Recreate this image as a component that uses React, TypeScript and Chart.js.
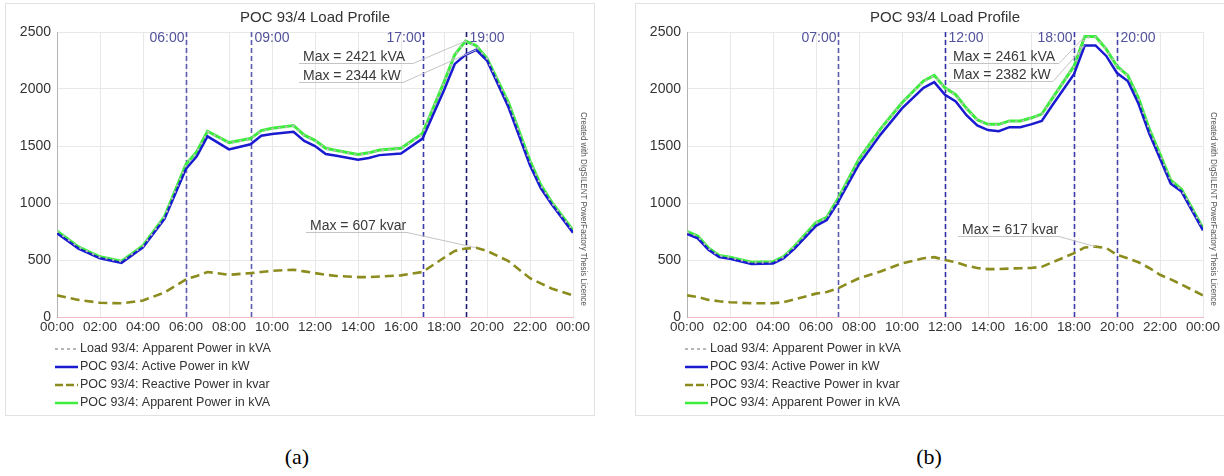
import React, { useEffect, useRef } from "react";
import { Chart, registerables } from "chart.js";
Chart.register(...registerables);

const FONT = "Arial, 'Liberation Sans', Helvetica, sans-serif";

const chartTitle = "POC 93/4 Load Profile";
const xTickLabels = ["00:00", "02:00", "04:00", "06:00", "08:00", "10:00", "12:00", "14:00", "16:00", "18:00", "20:00", "22:00", "00:00"];
const legendLabels = [
  "Load 93/4: Apparent Power in kVA",
  "POC 93/4: Active Power in kW",
  "POC 93/4: Reactive Power in kvar",
  "POC 93/4: Apparent Power in kVA",
];
const sideNote = "Created with DIgSILENT PowerFactory Thesis Licence";

// ---------- chart (a) ----------
const hoursA = [0, 1, 2, 3, 4, 5, 6, 6.5, 7, 8, 9, 9.5, 10, 11, 11.5, 12, 12.5, 13, 14, 14.5, 15, 16, 17, 18, 18.5, 19, 19.5, 20, 21, 22, 22.5, 23, 24];
const activeA = [735, 600, 515, 475, 610, 860, 1300, 1410, 1585, 1470, 1515, 1590, 1605, 1625, 1545, 1500, 1430, 1415, 1380, 1395, 1420, 1435, 1565, 1990, 2220, 2300, 2344, 2250, 1840, 1330, 1130, 990, 740];
const pocApparentA = [755, 615, 528, 490, 625, 880, 1340, 1450, 1630, 1530, 1565, 1635, 1655, 1680, 1595, 1550, 1480, 1460, 1425, 1440, 1465, 1480, 1610, 2060, 2300, 2421, 2380, 2270, 1880, 1370, 1160, 1010, 760];
const loadApparentA = [752, 612, 525, 488, 622, 877, 1335, 1446, 1625, 1526, 1560, 1630, 1650, 1676, 1590, 1546, 1476, 1456, 1420, 1436, 1460, 1476, 1605, 2055, 2295, 2415, 2376, 2266, 1876, 1366, 1156, 1006, 756];
const reactiveA = [190, 150, 125, 120, 145, 215, 330, 360, 395, 370, 385, 395, 405, 415, 400, 385, 370, 360, 350, 350, 355, 365, 395, 520, 580, 600, 607, 580, 490, 340, 295, 250, 190];
const markerHoursA = [6, 9, 17, 19];
const markerLabelsA = ["06:00", "09:00", "17:00", "19:00"];
const maxLabelsA = ["Max = 2421 kVA", "Max = 2344 kW", "Max = 607 kvar"];

// ---------- chart (b) ----------
const hoursB = [0, 0.5, 1, 1.5, 2, 3, 4, 4.5, 5, 6, 6.5, 7, 8, 9, 10, 11, 11.5, 12, 12.5, 13, 13.5, 14, 14.5, 15, 15.5, 16, 16.5, 17, 18, 18.5, 19, 19.5, 20, 20.5, 21, 21.5, 22, 22.5, 23, 24];
const activeB = [730, 690, 590, 525, 510, 465, 470, 515, 600, 800, 850, 1000, 1340, 1600, 1830, 2010, 2060, 1950, 1890, 1770, 1680, 1640, 1630, 1665, 1665, 1690, 1720, 1860, 2130, 2382, 2382, 2290, 2140, 2070, 1870, 1610, 1390, 1170, 1100, 760];
const pocApparentB = [750, 710, 605, 540, 525, 480, 485, 530, 620, 830, 875, 1030, 1385, 1650, 1880, 2070, 2120, 2010, 1950, 1830, 1730, 1690, 1690, 1720, 1720, 1745, 1780, 1920, 2200, 2461, 2461, 2350, 2200, 2120, 1920, 1650, 1430, 1200, 1120, 780];
const loadApparentB = [747, 707, 602, 537, 522, 477, 482, 527, 617, 826, 871, 1026, 1380, 1645, 1875, 2065, 2115, 2005, 1945, 1825, 1725, 1685, 1685, 1715, 1715, 1740, 1775, 1915, 2195, 2452, 2452, 2345, 2195, 2115, 1915, 1645, 1426, 1196, 1116, 776];
const reactiveB = [190, 175, 150, 138, 130, 120, 120, 130, 155, 205, 220, 250, 340, 400, 470, 515, 525, 500, 480, 450, 430, 420, 420, 425, 428, 430, 440, 480, 560, 610, 617, 605, 545, 515, 480, 430, 370, 330, 285, 190];
const markerHoursB = [7, 12, 18, 20];
const markerLabelsB = ["07:00", "12:00", "18:00", "20:00"];
const maxLabelsB = ["Max = 2461 kVA", "Max = 2382 kW", "Max = 617 kvar"];

const COLORS = {
  load: "#bdbdbd",
  active: "#1a1ad0",
  reactive: "#8c8c1e",
  apparent: "#3ded3d",
};

type Marker = { side: "left" | "right"; color: string };
type Ann = { x: number; y: number; ulEnd: number };

interface Spec {
  hours: number[];
  active: number[];
  pocApparent: number[];
  loadApparent: number[];
  reactive: number[];
  markerHours: number[];
  markerLabels: string[];
  markerStyles: Marker[];
  maxLabels: string[];
  annPos: Ann[];
}

const specA: Spec = {
  hours: hoursA,
  active: activeA,
  pocApparent: pocApparentA,
  loadApparent: loadApparentA,
  reactive: reactiveA,
  markerHours: markerHoursA,
  markerLabels: markerLabelsA,
  markerStyles: [
    { side: "left", color: "#5c5cae" },
    { side: "right", color: "#5c5cae" },
    { side: "left", color: "#3a3aa8" },
    { side: "right", color: "#1c1c6e" },
  ],
  maxLabels: maxLabelsA,
  annPos: [
    { x: 298, y: 54, ulEnd: 408 },
    { x: 298, y: 73, ulEnd: 398 },
    { x: 305, y: 223, ulEnd: 402 },
  ],
};

const specB: Spec = {
  hours: hoursB,
  active: activeB,
  pocApparent: pocApparentB,
  loadApparent: loadApparentB,
  reactive: reactiveB,
  markerHours: markerHoursB,
  markerLabels: markerLabelsB,
  markerStyles: [
    { side: "left", color: "#5c5cae" },
    { side: "right", color: "#3030a0" },
    { side: "left", color: "#3a3aa8" },
    { side: "right", color: "#4444aa" },
  ],
  maxLabels: maxLabelsB,
  annPos: [
    { x: 318, y: 54, ulEnd: 424 },
    { x: 318, y: 72, ulEnd: 418 },
    { x: 327, y: 227, ulEnd: 424 },
  ],
};

const W = 590;
const H = 413;

function pts(hours: number[], vals: number[]) {
  return hours.map((h, i) => ({ x: h, y: vals[i] }));
}

function argMax(vals: number[]) {
  let k = 0;
  for (let i = 1; i < vals.length; i++) if (vals[i] > vals[k]) k = i;
  return k;
}

function LoadChart({ spec }: { spec: Spec }) {
  const ref = useRef<HTMLCanvasElement | null>(null);
  useEffect(() => {
    const canvas = ref.current;
    if (!canvas) return;

    const deco = {
      id: "deco",
      beforeDatasetsDraw(chart: any) {
        const ctx = chart.ctx;
        const area = chart.chartArea;
        const xs = chart.scales.x;
        ctx.save();
        spec.markerHours.forEach((h, i) => {
          const st = spec.markerStyles[i];
          const px = Math.round(xs.getPixelForValue(h)) + 0.5;
          ctx.strokeStyle = st.color;
          ctx.lineWidth = 1.6;
          ctx.setLineDash([5, 3]);
          ctx.beginPath();
          ctx.moveTo(px, area.top);
          ctx.lineTo(px, area.bottom);
          ctx.stroke();
          ctx.setLineDash([]);
          ctx.fillStyle = "#52529c";
          ctx.font = `14px ${FONT}`;
          ctx.textBaseline = "middle";
          if (st.side === "left") {
            ctx.textAlign = "right";
            ctx.fillText(spec.markerLabels[i], px - 2, 35);
          } else {
            ctx.textAlign = "left";
            ctx.fillText(spec.markerLabels[i], px + 3, 35);
          }
        });
        ctx.restore();
      },
      afterDatasetsDraw(chart: any) {
        const ctx = chart.ctx;
        const xs = chart.scales.x;
        const ys = chart.scales.y;
        const series = [spec.pocApparent, spec.active, spec.reactive];
        ctx.save();
        series.forEach((vals, i) => {
          const k = argMax(vals);
          const tx = xs.getPixelForValue(spec.hours[k]);
          const ty = ys.getPixelForValue(vals[k]);
          const a = spec.annPos[i];
          const uy = a.y + 6.5;
          ctx.strokeStyle = "#c4c4c4";
          ctx.lineWidth = 1;
          ctx.beginPath();
          ctx.moveTo(a.x - 4, uy);
          ctx.lineTo(a.ulEnd, uy);
          ctx.lineTo(tx, ty);
          ctx.stroke();
          ctx.fillStyle = "#3a3a3a";
          ctx.font = `14px ${FONT}`;
          ctx.textAlign = "left";
          ctx.textBaseline = "middle";
          ctx.fillText(spec.maxLabels[i], a.x, a.y);
        });
        ctx.restore();
      },
      afterDraw(chart: any) {
        const ctx = chart.ctx;
        const area = chart.chartArea;
        ctx.save();
        ctx.strokeStyle = "#e2e2e2";
        ctx.lineWidth = 1;
        ctx.strokeRect(0.5, 0.5, W - 1, H - 1);
        ctx.fillStyle = "#333";
        ctx.font = `15px ${FONT}`;
        ctx.textAlign = "center";
        ctx.textBaseline = "middle";
        ctx.fillText(chartTitle, (area.left + area.right) / 2, 15);
        ctx.save();
        ctx.translate(area.right + 10, 206);
        ctx.rotate(Math.PI / 2);
        ctx.fillStyle = "#555";
        ctx.font = `8.5px ${FONT}`;
        ctx.textAlign = "center";
        ctx.textBaseline = "middle";
        ctx.fillText(sideNote, 0, 0, 194);
        ctx.restore();
        const styles = [
          { c: "#a0a0a0", w: 1.5, d: [3, 3] },
          { c: COLORS.active, w: 2.5, d: [] as number[] },
          { c: COLORS.reactive, w: 2.5, d: [8, 3] },
          { c: COLORS.apparent, w: 2.5, d: [] as number[] },
        ];
        const rows = [346, 364, 382, 400];
        legendLabels.forEach((lab, i) => {
          const s = styles[i];
          ctx.strokeStyle = s.c;
          ctx.lineWidth = s.w;
          ctx.setLineDash(s.d);
          ctx.beginPath();
          ctx.moveTo(area.left - 2, rows[i]);
          ctx.lineTo(area.left + 21, rows[i]);
          ctx.stroke();
          ctx.setLineDash([]);
          ctx.fillStyle = "#333";
          ctx.font = `12.5px ${FONT}`;
          ctx.textAlign = "left";
          ctx.textBaseline = "middle";
          ctx.fillText(lab, area.left + 23, rows[i]);
        });
        ctx.restore();
      },
    };

    const chart = new Chart(canvas, {
      type: "line",
      data: {
        datasets: [
          {
            label: legendLabels[0],
            data: pts(spec.hours, spec.loadApparent),
            borderColor: COLORS.load,
            borderWidth: 2.2,
            borderDash: [2, 5],
            pointRadius: 0,
            tension: 0,
          },
          {
            label: legendLabels[1],
            data: pts(spec.hours, spec.active),
            borderColor: COLORS.active,
            borderWidth: 2.5,
            pointRadius: 0,
            tension: 0,
          },
          {
            label: legendLabels[2],
            data: pts(spec.hours, spec.reactive),
            borderColor: COLORS.reactive,
            borderWidth: 2.6,
            borderDash: [9, 5],
            pointRadius: 0,
            tension: 0,
          },
          {
            label: legendLabels[3],
            data: pts(spec.hours, spec.pocApparent),
            borderColor: COLORS.apparent,
            borderWidth: 3,
            pointRadius: 0,
            tension: 0,
          },
        ],
      },
      options: {
        responsive: false,
        animation: false,
        devicePixelRatio: 1,
        layout: { padding: { left: 0, top: 29, right: 22, bottom: 0 } },
        plugins: { legend: { display: false }, title: { display: false }, tooltip: { enabled: false } },
        scales: {
          x: {
            type: "linear",
            min: 0,
            max: 24,
            afterFit: (s: any) => {
              s.height = H - 314;
            },
            afterBuildTicks: (s: any) => {
              s.ticks = xTickLabels.map((_, i) => ({ value: i * 2 }));
            },
            ticks: {
              autoSkip: false,
              maxRotation: 0,
              padding: 2,
              color: "#333",
              font: { family: FONT, size: 13.5 },
              callback: (v: any) => xTickLabels[Math.round(Number(v) / 2)],
            },
            grid: { color: "#e8e8e8", drawTicks: false },
            border: { color: "#f0bcc4", width: 1 },
          },
          y: {
            min: 0,
            max: 2500,
            afterFit: (s: any) => {
              s.width = 52;
            },
            ticks: {
              stepSize: 500,
              padding: 6,
              color: "#333",
              font: { family: FONT, size: 14 },
              callback: (v: any) => String(v),
            },
            grid: { color: "#e8e8e8", drawTicks: false },
            border: { color: "#b4b4b4", width: 1 },
          },
        },
      },
      plugins: [deco],
    } as any);
    return () => chart.destroy();
  }, [spec]);
  return <canvas ref={ref} width={W} height={H} style={{ width: W, height: H, display: "block" }} />;
}

export default function App() {
  return (
    <div style={{ position: "absolute", left: 0, top: 0, width: 1224, height: 476, background: "#fff", overflow: "hidden" }}>
      <div style={{ position: "absolute", left: 5, top: 3 }}>
        <LoadChart spec={specA} />
      </div>
      <div style={{ position: "absolute", left: 635, top: 3 }}>
        <LoadChart spec={specB} />
      </div>
      <div style={{ position: "absolute", left: 247, top: 444, width: 100, textAlign: "center", font: "22px 'Times New Roman', 'Liberation Serif', serif", color: "#000" }}>(a)</div>
      <div style={{ position: "absolute", left: 879, top: 444, width: 100, textAlign: "center", font: "22px 'Times New Roman', 'Liberation Serif', serif", color: "#000" }}>(b)</div>
    </div>
  );
}
